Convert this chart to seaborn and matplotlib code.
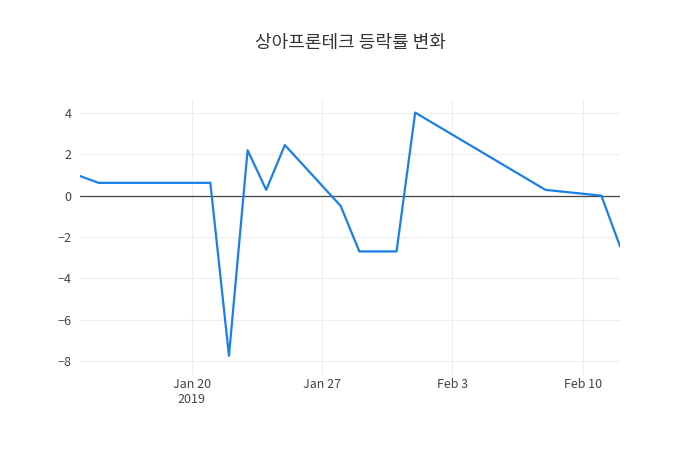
import pandas as pd
import matplotlib
matplotlib.use("Agg")
import matplotlib.pyplot as plt
import seaborn as sns

dates = ["2019-01-14", "2019-01-15", "2019-01-21", "2019-01-22", "2019-01-23",
         "2019-01-24", "2019-01-25", "2019-01-28", "2019-01-29", "2019-01-31",
         "2019-02-01", "2019-02-08", "2019-02-11", "2019-02-12"]
rates = [0.95, 0.62, 0.62, -7.75, 2.2, 0.28, 2.45, -0.5, -2.7, -2.7,
         4.02, 0.28, 0.0, -2.45]

df = pd.DataFrame({"date": pd.to_datetime(dates), "rate": rates})

sns.set_style("white")
plt.rcParams["font.family"] = ["Noto Sans CJK KR", "DejaVu Sans"]

fig = plt.figure(figsize=(7, 4.5), dpi=100)
ax = fig.add_axes([80 / 700, 75 / 450, 540 / 700, 275 / 450])
sns.lineplot(data=df, x="date", y="rate", color="#1a80e8", linewidth=1.6, ax=ax)
ax.axhline(0, color="#444444", linewidth=0.9, zorder=1)

ax.set_xlim(df["date"].min(), df["date"].max())
ax.set_ylim(-8.68, 4.63)
ax.set_yticks([-8, -6, -4, -2, 0, 2, 4])
ax.set_yticklabels(["\u22128", "\u22126", "\u22124", "\u22122", "0", "2", "4"])
ticks = pd.to_datetime(["2019-01-20", "2019-01-27", "2019-02-03", "2019-02-10"])
ax.set_xticks(ticks)
ax.set_xticklabels(["Jan 20\n2019", "Jan 27", "Feb 3", "Feb 10"])
ax.grid(True, color="#eeeeee", linewidth=0.8)
ax.set_axisbelow(True)
for s in ax.spines.values():
    s.set_visible(False)
ax.tick_params(axis="y", length=0, labelsize=9, colors="#444444", pad=6)
ax.tick_params(axis="x", length=0, labelsize=9, colors="#444444", pad=2)
ax.set_xlabel("")
ax.set_ylabel("")

fig.suptitle("상아프론테크 등락률 변화", y=0.925, fontsize=13, color="#333333")
fig.savefig("out.png", dpi=100)
